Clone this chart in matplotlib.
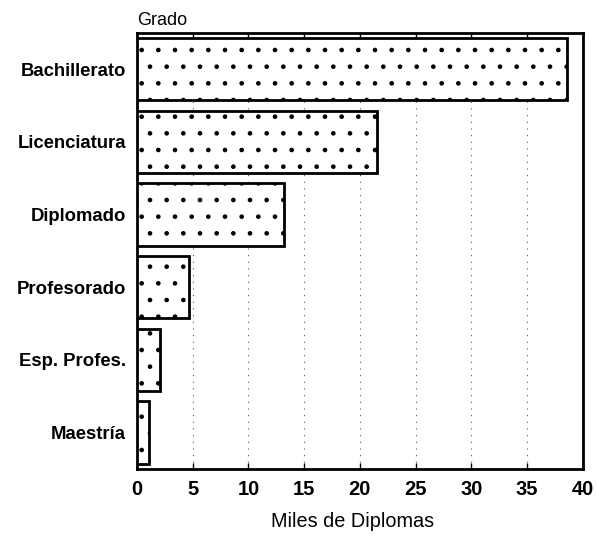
import matplotlib
matplotlib.use("Agg")
import matplotlib.pyplot as plt

plt.rcParams["font.family"] = ["Liberation Sans", "DejaVu Sans"]
plt.rcParams["hatch.linewidth"] = 0.9

grados = ["Bachillerato", "Licenciatura", "Diplomado", "Profesorado", "Esp. Profes.", "Maestría"]
miles = [38.6, 21.5, 13.2, 4.7, 2.1, 1.1]
x_ticks = [0, 5, 10, 15, 20, 25, 30, 35, 40]

fig = plt.figure(figsize=(5.96, 5.39), dpi=100)
ax = fig.add_axes([0.2299, 0.130, 0.748, 0.809])

pos = list(range(len(grados)))
ax.barh(pos, miles, height=0.86, color="white", edgecolor="black",
        linewidth=2, hatch=".", zorder=3)

ax.set_ylim(len(grados) - 0.5, -0.5)
ax.set_xlim(0, 40)
ax.set_yticks(pos)
ax.set_yticklabels(grados, fontsize=13.3, fontweight="bold")
ax.set_xticks(x_ticks)
ax.set_xticklabels([str(t) for t in x_ticks], fontsize=14.5, fontweight="bold")
ax.tick_params(axis="y", length=0, pad=8)
ax.tick_params(axis="x", direction="in", length=4, width=1, top=True, pad=8)

for v in x_ticks[1:-1]:
    ax.axvline(v, color="#555555", linestyle=(0, (1, 5)), linewidth=0.8, zorder=1)

for s in ax.spines.values():
    s.set_linewidth(2)

ax.set_xlabel("Miles de Diplomas", fontsize=14.3)
ax.xaxis.set_label_coords(0.484, -0.099)
ax.text(0, 1.008, "Grado", transform=ax.transAxes, fontsize=13, ha="left", va="bottom")

fig.savefig("out.png", dpi=100)
